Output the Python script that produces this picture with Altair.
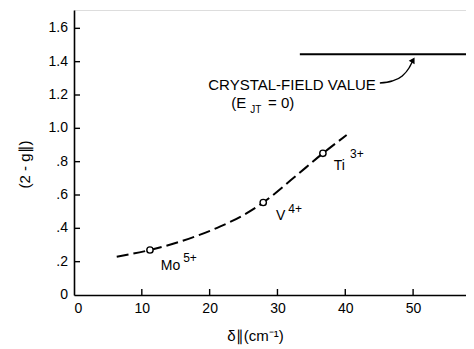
import altair as alt
import pandas as pd

# ---- data ----
curve_x = [6.3, 11.2, 15.6, 21.5, 25.0, 27.9, 32.3, 36.7, 40.2]
curve_y = [0.23, 0.27, 0.32, 0.41, 0.48, 0.555, 0.70, 0.85, 0.96]

ion_names = ["Mo", "V", "Ti"]
ion_x = [11.2, 27.9, 36.7]
ion_y = [0.27, 0.555, 0.85]
ion_charge = ["5+", "4+", "3+"]
label_x = [12.8, 29.8, 38.3]
label_y = [0.15, 0.45, 0.75]
sup_x = [16.1, 31.6, 40.7]
sup_y = [0.198, 0.49, 0.82]

cf_value = 1.445
cf_x = [33.3, 57.8]

arrow_x = [45.1, 46.9, 48.4, 49.4, 50.0]
arrow_y = [1.272, 1.284, 1.314, 1.362, 1.41]

y_ticks = [0.2, 0.4, 0.6, 0.8, 1.0, 1.2, 1.4, 1.6]
y_tick_values = [0, 0.2, 0.4, 0.6, 0.8, 1.0, 1.2, 1.4, 1.6]
y_tick_labels = ["0", ".2", ".4", ".6", ".8", "1.0", "1.2", "1.4", "1.6"]
x_ticks = [10, 20, 30, 40, 50]

W, H = 392, 285
FONT = "Liberation Sans"

xs = alt.Scale(domain=[0, 57.8], nice=False, zero=False)
ys = alt.Scale(domain=[0, 1.71], nice=False, zero=False)

X_AXIS = alt.Axis(values=[0] + x_ticks, ticks=False, grid=False,
                  labelOverlap=False,
                  domainColor="black", domainWidth=1.6,
                  labelFont=FONT, labelFontSize=14, labelColor="black",
                  labelPadding=6, title="δ∥(cm⁻¹)", titleFont=FONT,
                  titleFontSize=15, titleFontWeight="normal", titleColor="black",
                  titleX=181, titleY=40, titleBaseline="middle")
Y_AXIS = alt.Axis(values=y_tick_values, ticks=False, grid=False, labels=False,
                  domainColor="black", domainWidth=1.6,
                  title="(2 - g∥)", titleFont=FONT, titleFontSize=15,
                  titleFontWeight="normal", titleColor="black",
                  titleX=-50, titleY=154, titleAngle=270,
                  titleAlign="center", titleBaseline="middle")


def X(field):
    return alt.X(field, scale=xs, axis=X_AXIS)


def Y(field):
    return alt.Y(field, scale=ys, axis=Y_AXIS)


curve_df = pd.DataFrame({"x": curve_x, "y": curve_y})
ions_df = pd.DataFrame({"name": ion_names, "x": ion_x, "y": ion_y, "charge": ion_charge,
                        "lx": label_x, "ly": label_y, "sx": sup_x, "sy": sup_y})

curve = alt.Chart(curve_df).mark_line(interpolate="monotone", color="black", strokeWidth=2,
                                      strokeDash=[12, 5]).encode(
    x=X("x:Q"), y=Y("y:Q"))

pts = alt.Chart(ions_df).mark_point(shape="circle", filled=False, color="black",
                                    fill="white", size=40, strokeWidth=1.4, opacity=1).encode(
    x=X("x:Q"), y=Y("y:Q"))

lbl = alt.Chart(ions_df).mark_text(font=FONT, fontSize=14, align="left",
                                   baseline="alphabetic", color="black").encode(
    x=X("lx:Q"), y=Y("ly:Q"), text="name:N")

sup = alt.Chart(ions_df).mark_text(font=FONT, fontSize=12, align="left",
                                   baseline="alphabetic", color="black").encode(
    x=X("sx:Q"), y=Y("sy:Q"), text="charge:N")

cf_df = pd.DataFrame({"x": [cf_x[0]], "x2": [cf_x[1]], "y": [cf_value]})
cf_line = alt.Chart(cf_df).mark_rule(color="black", strokeWidth=2).encode(
    x=X("x:Q"), x2="x2:Q", y=Y("y:Q"))

arrow_df = pd.DataFrame({"x": arrow_x, "y": arrow_y, "o": list(range(len(arrow_x)))})
arrow = alt.Chart(arrow_df).mark_line(interpolate="monotone", color="black",
                                      strokeWidth=1.4).encode(
    x=X("x:Q"), y=Y("y:Q"), order="o:O")
head_df = pd.DataFrame({"x": [arrow_x[-1]], "y": [arrow_y[-1]]})
head = alt.Chart(head_df).mark_point(shape="triangle-up", filled=True, color="black",
                                     size=45, angle=30, opacity=1).encode(
    x=X("x:Q"), y=Y("y:Q"))

ann_df = pd.DataFrame({
    "x": [19.8, 23.2, 26.0, 28.6],
    "y": [1.23, 1.12, 1.095, 1.12],
    "t": ["CRYSTAL-FIELD VALUE", "(E", "JT", "= 0)"],
    "fs": [15, 15, 10, 15],
})
ann = alt.Chart(ann_df).mark_text(font=FONT, align="left", baseline="alphabetic",
                                  color="black").encode(
    x=X("x:Q"), y=Y("y:Q"), text="t:N",
    size=alt.Size("fs:Q", scale=None, legend=None))

ylab_df = pd.DataFrame({"y": y_tick_values, "t": y_tick_labels})
ylab = alt.Chart(ylab_df).mark_text(font=FONT, fontSize=14, align="right",
                                    baseline="middle", color="black").encode(
    x=alt.value(-6), y=Y("y:Q"), text="t:N")

yt_df = pd.DataFrame({"y": y_ticks})
yt = alt.Chart(yt_df).mark_rule(color="black", strokeWidth=1.4).encode(
    x=alt.value(0), x2=alt.value(6), y=Y("y:Q"))
xt_df = pd.DataFrame({"x": x_ticks})
xt = alt.Chart(xt_df).mark_rule(color="black", strokeWidth=1.4).encode(
    x=X("x:Q"), y=alt.value(H), y2=alt.value(H - 6))

chart = alt.layer(curve, pts, lbl, sup, cf_line, arrow, head, ann, ylab, yt, xt).properties(
    width=W, height=H,
    autosize=alt.AutoSizeParams(type="none"),
    padding={"left": 66, "top": 2, "right": 0, "bottom": 52},
).configure_view(stroke=None).configure(background="white")

chart.save("out.html", embed_options={"renderer": "svg", "actions": False})
